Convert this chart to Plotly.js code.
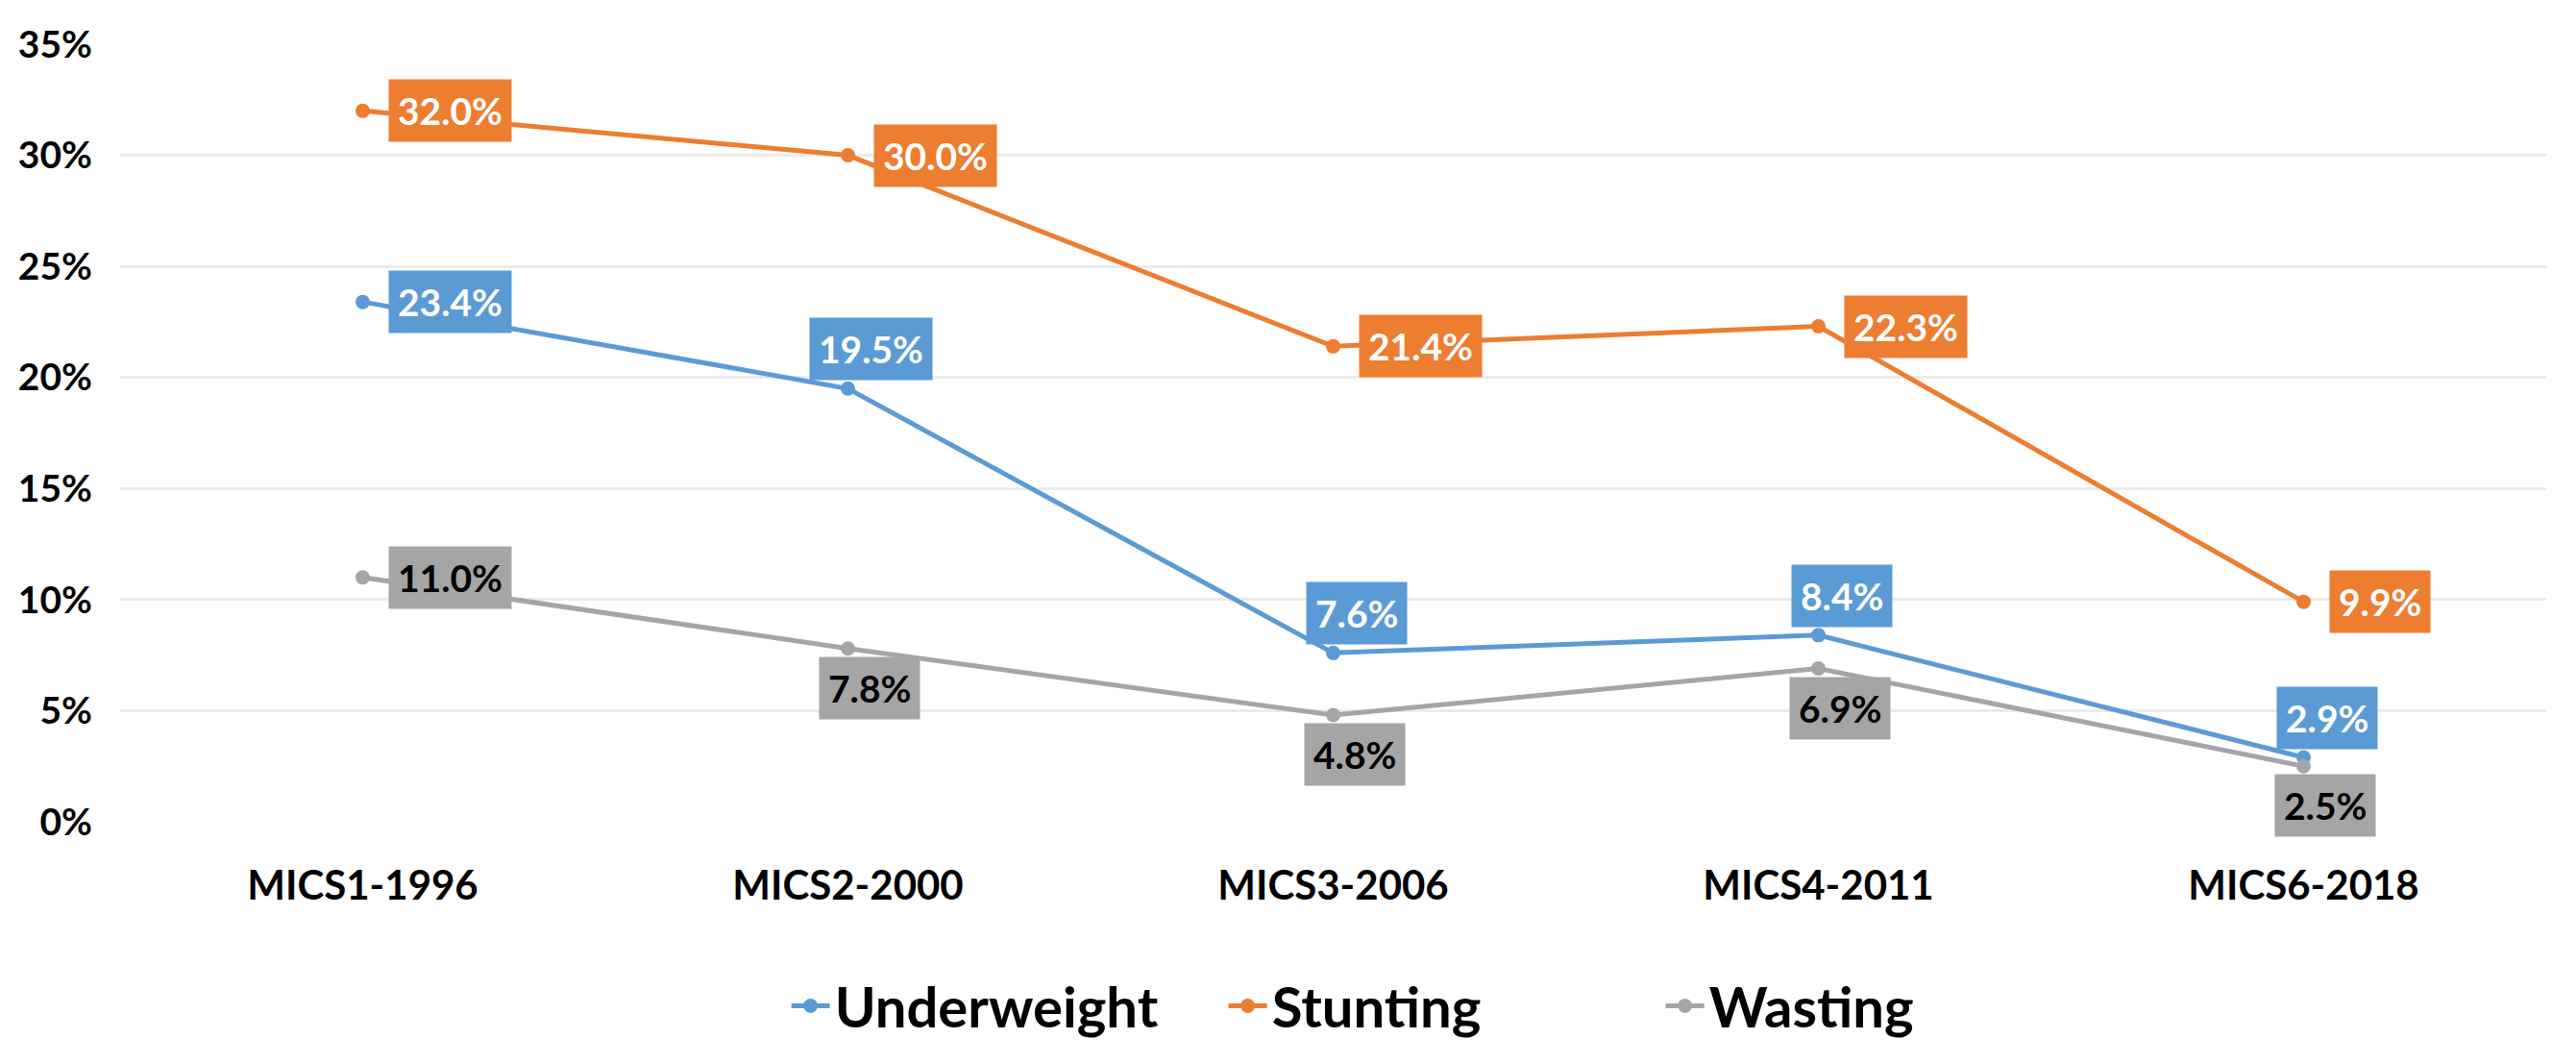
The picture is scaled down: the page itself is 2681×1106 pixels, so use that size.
<!DOCTYPE html>
<html>
<head>
<meta charset="utf-8">
<script src="https://cdn.plot.ly/plotly-3.0.1.min.js"></script>
<style>
  html, body { margin: 0; padding: 0; background: #ffffff; }
  #chart { width: 2681px; height: 1106px; }
</style>
</head>
<body>
<div id="chart"></div>
<script>
// ---- data ----
const categories = ['MICS1-1996', 'MICS2-2000', 'MICS3-2006', 'MICS4-2011', 'MICS6-2018'];
const underweight = [23.4, 19.5, 7.6, 8.4, 2.9];
const stunting = [32.0, 30.0, 21.4, 22.3, 9.9];
const wasting = [11.0, 7.8, 4.8, 6.9, 2.5];
const yTickVals = [0, 5, 10, 15, 20, 25, 30, 35];
const yTickText = ['0%', '5%', '10%', '15%', '20%', '25%', '30%', '35%'];
const seriesNames = ['Underweight', 'Stunting', 'Wasting'];

// ---- style ----
const colors = ['#5B9BD5', '#ED7D31', '#A5A5A5'];
const labelTextColors = ['#FFFFFF', '#FFFFFF', '#000000'];
const labelPlacement = [
  ['right', 'above', 'above', 'above', 'above'],
  ['right', 'right', 'right', 'right', 'right'],
  ['right', 'below', 'below', 'below', 'below']
];
const FONT = 'Lato, "Open Sans", sans-serif';

const allSeries = [underweight, stunting, wasting];

const traces = allSeries.map((vals, i) => ({
  type: 'scatter',
  mode: 'lines+markers',
  name: seriesNames[i],
  x: categories,
  y: vals,
  line: { color: colors[i], width: 5 },
  marker: { color: colors[i], size: 15 },
  cliponaxis: false,
  hoverinfo: 'skip'
}));

const annotations = [];
allSeries.forEach((vals, i) => {
  vals.forEach((v, j) => {
    const p = labelPlacement[i][j];
    const a = {
      x: categories[j],
      y: v,
      xref: 'x', yref: 'y',
      text: '<b>' + v.toFixed(1) + '%</b>',
      showarrow: false,
      bgcolor: colors[i],
      borderpad: 9,
      font: { family: FONT, size: 39, color: labelTextColors[i] }
    };
    if (p === 'right') {
      a.xanchor = 'left'; a.yanchor = 'middle'; a.xshift = 26; a.yshift = 0;
    } else if (p === 'above') {
      a.xanchor = 'center'; a.yanchor = 'bottom'; a.xshift = 24; a.yshift = 8;
    } else {
      a.xanchor = 'center'; a.yanchor = 'top'; a.xshift = 22; a.yshift = -8;
    }
    annotations.push(a);
  });
});

const layout = {
  width: 2681,
  height: 1106,
  paper_bgcolor: '#ffffff',
  plot_bgcolor: '#ffffff',
  margin: { l: 125, r: 31, t: 46, b: 251 },
  showlegend: true,
  legend: {
    orientation: 'h',
    x: 0.545, xanchor: 'center',
    y: -0.237, yanchor: 'middle',
    font: { family: FONT, size: 58, color: '#000000', weight: 'bold' },
    itemwidth: 40,
    entrywidth: 400,
    entrywidthmode: 'pixels'
  },
  xaxis: {
    type: 'category',
    range: [-0.5, 4.5],
    showgrid: false,
    showline: false,
    zeroline: false,
    ticks: '',
    ticklabelstandoff: 38,
    tickfont: { family: FONT, size: 42, color: '#000000', weight: 'bold' }
  },
  yaxis: {
    range: [0, 35],
    tickvals: yTickVals,
    ticktext: yTickText,
    showgrid: true,
    gridcolor: '#EBEBEB',
    gridwidth: 3,
    zeroline: false,
    showline: false,
    ticks: '',
    ticklabelstandoff: 28,
    tickfont: { family: FONT, size: 39, color: '#000000', weight: 'bold' }
  },
  annotations: annotations
};

Plotly.newPlot('chart', traces, layout, { displayModeBar: false, staticPlot: true });
</script>
</body>
</html>
